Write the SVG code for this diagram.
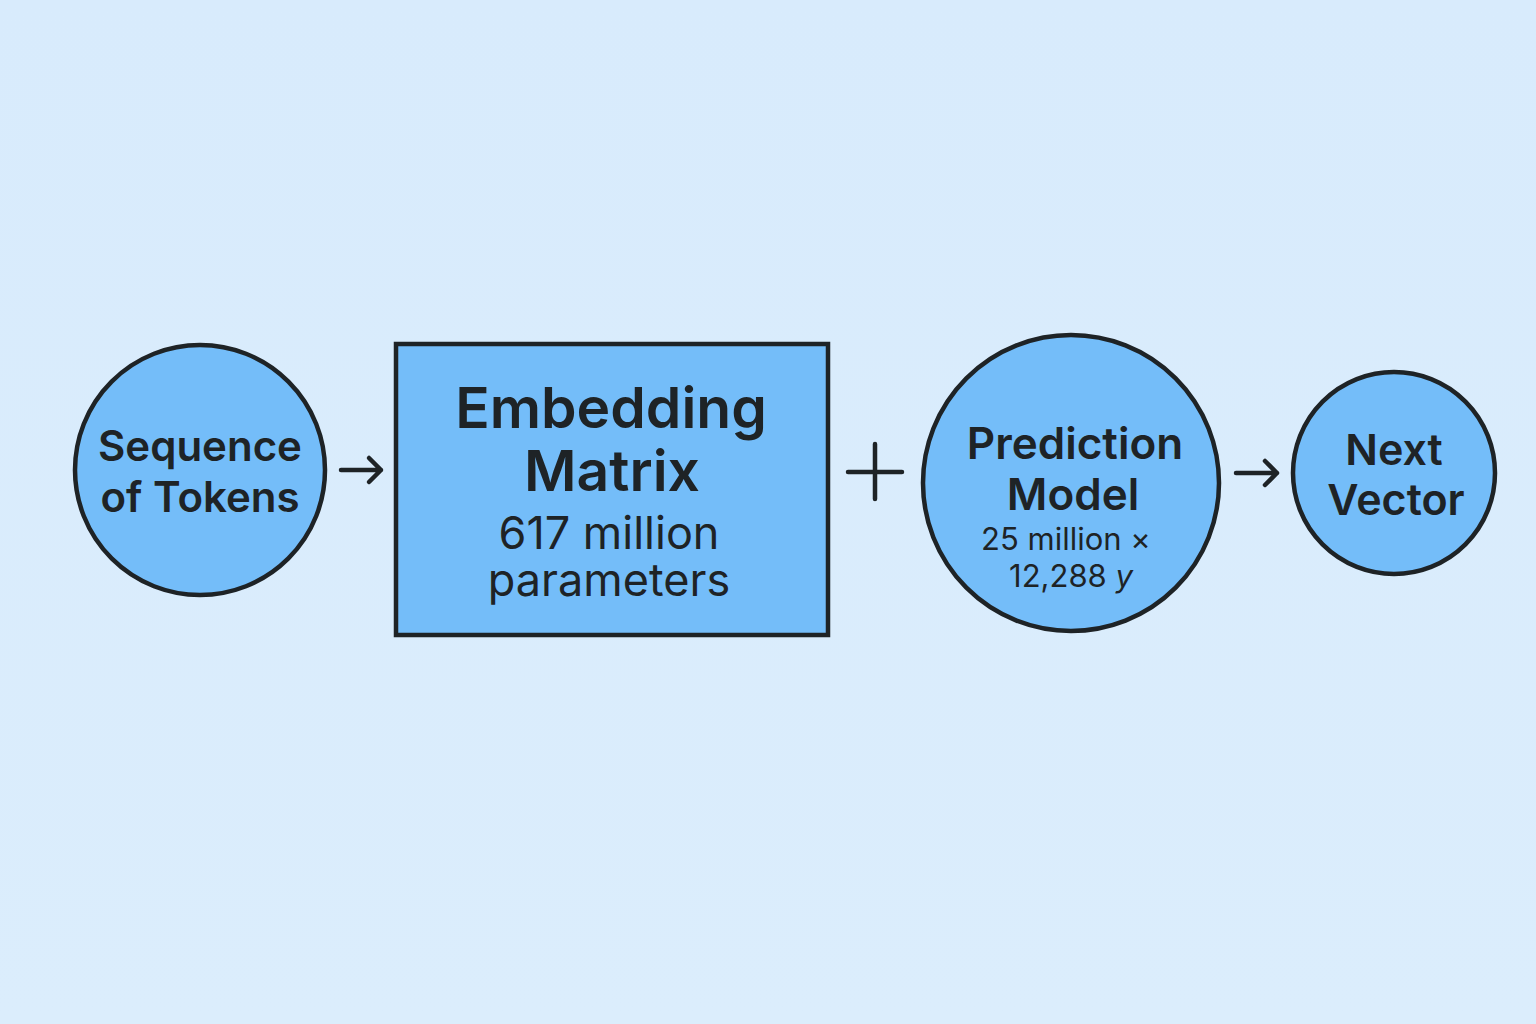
<svg xmlns="http://www.w3.org/2000/svg" width="1536" height="1024" viewBox="0 0 1536 1024">
<defs>
<style>
.node{fill:#74bdf9;stroke:#1e2326;stroke-width:4.5}
.t{font-family:Inter,"Open Sans","Liberation Sans",sans-serif;fill:#1e2326;text-anchor:middle}
.b{font-weight:600}
.conn{stroke:#1e2326;stroke-width:4.5;stroke-linecap:round;stroke-linejoin:round;fill:none}
</style>
<linearGradient id="bg" x1="0" y1="0" x2="0" y2="1">
<stop offset="0" stop-color="#d8ebfc"/>
<stop offset="1" stop-color="#dbedfc"/>
</linearGradient>
</defs>
<rect width="1536" height="1024" fill="url(#bg)"/>
<g id="connectors">
<path class="conn" d="M341 470 H381 M369 458 L381 470 L369 482"/>
<path class="conn" d="M848 472 H902 M875 444 V499"/>
<path class="conn" d="M1236 473 H1277 M1265 461 L1277 473 L1265 485"/>
</g>
<g id="seq">
<circle class="node" cx="200" cy="470" r="125"/>
<text class="t b" x="200" y="461" font-size="42">Sequence</text>
<text class="t b" x="200" y="512" font-size="42">of Tokens</text>
</g>
<g id="emb">
<rect class="node" x="396" y="344" width="432" height="291"/>
<text class="t b" x="611" y="428" font-size="57">Embedding</text>
<text class="t b" x="612" y="491" font-size="57">Matrix</text>
<text class="t" x="609" y="549" font-size="45">617 million</text>
<text class="t" x="609" y="596" font-size="45">parameters</text>
</g>
<g id="pred">
<circle class="node" cx="1071" cy="483" r="148"/>
<text class="t b" x="1075" y="459" font-size="44">Prediction</text>
<text class="t b" x="1073" y="510" font-size="44">Model</text>
<text class="t" x="1066" y="550" font-size="31">25 million ×</text>
<text class="t" x="1071" y="587" font-size="31">12,288 <tspan font-style="italic">y</tspan></text>
</g>
<g id="next">
<circle class="node" cx="1394" cy="473" r="101"/>
<text class="t b" x="1394" y="465" font-size="43">Next</text>
<text class="t b" x="1396" y="515" font-size="43">Vector</text>
</g>
</svg>
